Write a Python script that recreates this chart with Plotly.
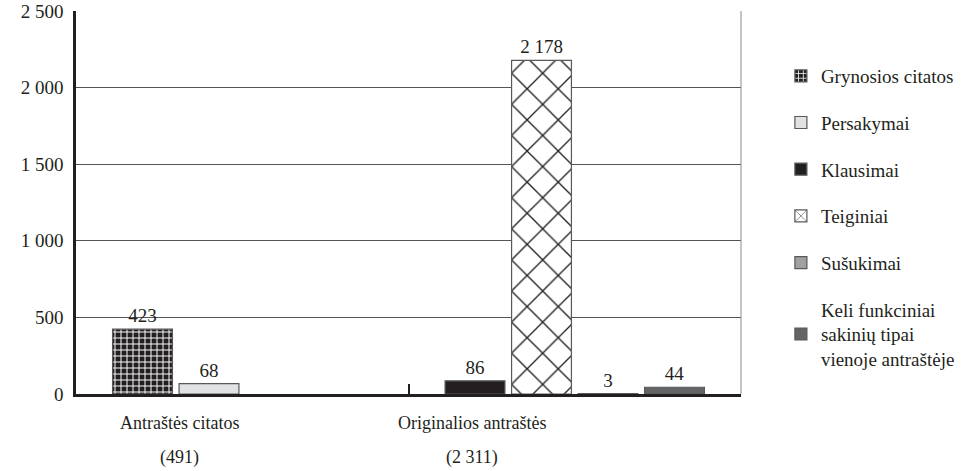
import plotly.graph_objects as go

# ---- data ----
categories = ["Antraštės citatos", "Originalios antraštės"]
category_totals = ["(491)", "(2 311)"]
series_names = [
    "Grynosios citatos",
    "Persakymai",
    "Klausimai",
    "Teiginiai",
    "Sušukimai",
    "Keli funkciniai<br>sakinių tipai<br>vienoje antraštėje",
]
grynosios = [423, None]
persakymai = [68, None]
klausimai = [None, 86]
teiginiai = [None, 2178]
susukimai = [None, 3]
keli = [None, 44]
series_values = [grynosios, persakymai, klausimai, teiginiai, susukimai, keli]
y_ticks = [0, 500, 1000, 1500, 2000, 2500]

# ---- styles ----
FONT = "Times New Roman"
INK = "#231f20"
slots = [0, 1, 0, 1, 2, 3]
fills = ["#231f20", "#e1e2e3", "#231f20", "#ffffff", "#a0a1a3", "#636466"]
patterns = [
    dict(shape="+", fgcolor="#ffffff", bgcolor="#231f20", size=6, solidity=0.3, fillmode="replace"),
    None,
    None,
    dict(shape="x", fgcolor="#231f20", bgcolor="#ffffff", size=22, solidity=0.12, fillmode="replace"),
    None,
    None,
]

fig = go.Figure()
for name, vals, slot, fill, pat in zip(series_names, series_values, slots, fills, patterns):
    marker = dict(color=fill, line=dict(color="#58595b", width=1.2))
    if pat:
        marker["pattern"] = pat
    fig.add_trace(go.Bar(
        x=categories,
        y=vals,
        name=name,
        legendgroup=name,
        offset=-0.39 + 0.2 * slot,
        width=0.18,
        marker=marker,
        text=[("" if v is None else f"{v:,}".replace(",", " ")) for v in vals],
        textposition="outside",
        textfont=dict(family=FONT, size=19, color=INK),
        cliponaxis=False,
    ))

label_x = [-0.19, 0.69]
for cx, cat, tot in zip(label_x, categories, category_totals):
    fig.add_annotation(x=cx, y=0, xref="x", yref="paper", text=cat, showarrow=False,
                       yanchor="middle", yshift=-29, font=dict(family=FONT, size=18, color=INK))
    fig.add_annotation(x=cx, y=0, xref="x", yref="paper", text=tot, showarrow=False,
                       yanchor="middle", yshift=-63, font=dict(family=FONT, size=18, color=INK))

# right frame line
fig.add_shape(type="line", xref="paper", yref="paper", x0=1, x1=1, y0=0, y1=1,
              line=dict(color="#8a8a8a", width=1))

fig.update_layout(
    template="none",
    width=969, height=471,
    margin=dict(l=76, r=228, t=11, b=77, autoexpand=False),
    barmode="overlay",
    plot_bgcolor="white",
    paper_bgcolor="white",
    separators=". ",
    showlegend=True,
    legend=dict(
        x=1.06, xanchor="left", y=0.88, yanchor="top",
        font=dict(family=FONT, size=19, color=INK),
        tracegroupgap=19,
        traceorder="grouped",
        bgcolor="rgba(0,0,0,0)",
    ),
)
fig.update_xaxes(
    type="category",
    showticklabels=False,
    automargin=False,
    showline=True, linecolor="#231f20", linewidth=2.5,
    ticks="inside", tickson="boundaries", ticklen=10, tickwidth=2, tickcolor="#231f20",
    showgrid=False, zeroline=False,
)
fig.update_yaxes(
    range=[0, 2500],
    tickvals=y_ticks,
    separatethousands=True,
    automargin=False,
    showline=True, linecolor="#231f20", linewidth=2.5,
    showgrid=True, gridcolor="#555555", gridwidth=1,
    zeroline=False,
    ticks="", ticklabelstandoff=6,
    tickfont=dict(family=FONT, size=19, color=INK),
)

fig.write_html("out.html", post_script="document.body.style.margin='0';",
               config={"displayModeBar": False})
